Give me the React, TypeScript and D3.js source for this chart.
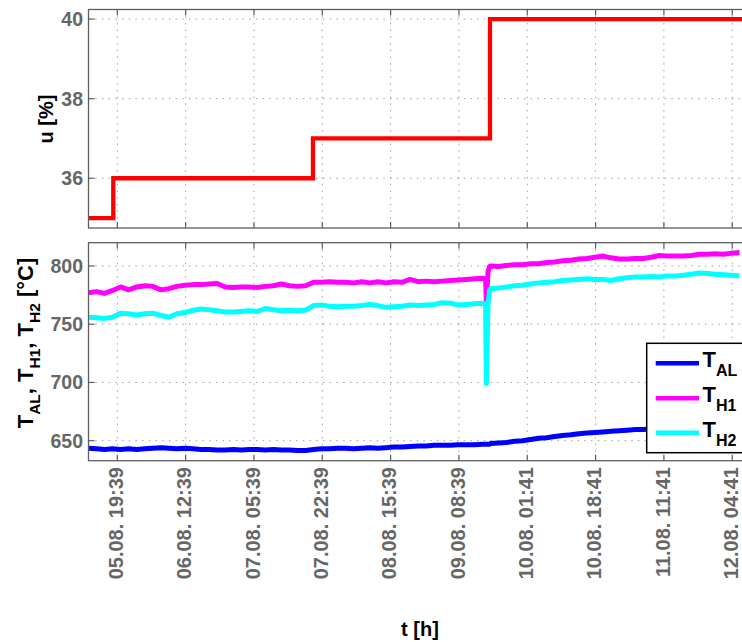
import React from "react";
import * as d3 from "d3";

// Sample times in hours from the start of the record
const hours = [
  0, 2, 4, 6, 8, 10, 12, 14, 16, 18, 20, 22, 24, 26, 28, 30, 32, 34, 36, 38,
  40, 42, 44, 46, 48, 50, 52, 54, 56, 58, 60, 62, 64, 66, 68, 70, 72, 74, 76, 78,
  80, 82, 84, 86, 88, 90, 92, 94, 96, 98, 98.8, 99.0, 99.4, 99.8,
  100, 102, 104, 106, 108, 110, 112, 114, 116, 118, 120, 122, 124, 126, 128, 130,
  132, 134, 136, 138, 140, 142, 144, 146, 148, 150, 152, 154, 156, 158, 160, 162,
];

// Temperatures [°C]
const tAL = [
  643.5, 643, 642.5, 643, 642.5, 643, 642.5, 643, 643.5, 644,
  643.5, 643, 643.5, 643, 642.5, 642.5, 642, 642, 642.5, 642,
  642.5, 642.5, 642, 642.5, 642, 642, 641.5, 641.5, 642.5, 643,
  643, 643.5, 643.5, 643, 643.5, 644, 643.5, 644, 644.5, 644.5,
  645, 645.5, 645.5, 646, 646, 646, 646.5, 646.5, 646.5, 647,
  647, 647, 647, 647,
  647.5, 648, 648.5, 649.5, 650, 651, 652, 652.5, 653.5, 654.5,
  655, 656, 656.5, 657, 657.5, 658, 658.5, 659, 659.5, 659.5,
  660, 660.5, 661, 661.5, 662, 662, 662.5, 663, 663, 663.5,
  664, 664,
];

const tH1 = [
  777, 778, 776.5, 779, 782, 779.5, 782, 783, 782.5, 779.5,
  780.5, 782.5, 783.5, 784, 784, 784.5, 785, 782, 781.5, 782,
  782, 781.5, 782.5, 783, 784.5, 783, 782.5, 783, 786, 786,
  786.5, 786, 786, 785.5, 786.5, 785.5, 786.5, 785.5, 786.5, 786,
  788.5, 786.5, 787, 786.5, 787, 787.5, 788, 788.5, 789, 789.5,
  789, 769, 795, 799.5,
  800, 799.5, 800.5, 801, 801, 802, 802, 803, 803.5, 804.5,
  805, 806, 806.5, 807.5, 808.5, 807, 806, 806, 806.5, 806.5,
  807.5, 809, 808.5, 808.5, 808.5, 809, 810, 810, 810.5, 810,
  811, 811.5,
];

const tH2 = [
  756, 755.5, 755, 756, 759.5, 759, 758, 759, 759.5, 757.5,
  756, 759, 760, 762, 763, 762.5, 761.5, 760.5, 760.5, 761,
  761.5, 761, 763.5, 762.5, 761.5, 762, 761.5, 762, 766, 766.5,
  765.5, 765, 765.5, 765.5, 766, 767, 766, 764.5, 765, 765.5,
  766.5, 766, 766.5, 767, 768.5, 768, 766.5, 767, 767.5, 768,
  767.5, 699, 767, 779,
  780.5, 781, 782, 783, 783.5, 784.5, 785.5, 786, 786.5, 787.5,
  788, 788.5, 789, 788.5, 788.5, 787.5, 789, 790, 790.5, 790.5,
  791, 790.5, 791.5, 791.5, 792, 793, 794, 793.5, 793, 792.5,
  792, 791.5,
];

// Control signal u [%]: step changes
const uHours = [0, 6.17, 55.85, 99.9, 162.6];
const uValues = [35, 36, 37, 40, 40];

// Time axis ticks
const tickHours = [7.17, 24.17, 41.17, 58.17, 75.17, 92.17, 109.17, 126.17, 143.17, 160.17];
const tickLabels = [
  "05.08. 19:39", "06.08. 12:39", "07.08. 05:39", "07.08. 22:39", "08.08. 15:39",
  "09.08. 08:39", "10.08. 01:41", "10.08. 18:41", "11.08. 11:41", "12.08. 04:41",
];
const uTicks = [36, 38, 40];
const tTicks = [650, 700, 750, 800];

const W = 742;
const H = 642;
const left = 88.5;
const right = 742;
const top1 = 9.5, bot1 = 228;
const top2 = 242.7, bot2 = 460.7;

const FONT = "'Liberation Sans', Arial, Helvetica, sans-serif";
const AXIS = "#5e5e5e";
const TICKTXT = "#666666";
const GRID = "#a0a0a0";

export default function App() {
  const x = d3.scaleLinear().domain([0, 162.6]).range([left, right]);
  const yU = d3.scaleLinear().domain([34.75, 40.24]).range([bot1, top1]);
  const yT = d3.scaleLinear().domain([632.8, 820]).range([bot2, top2]);

  const uLine = d3
    .line<number>()
    .x((_, i) => x(uHours[i]))
    .y((d) => yU(d))
    .curve(d3.curveStepAfter);

  const tLine = d3
    .line<number>()
    .x((_, i) => x(hours[i]))
    .y((d) => yT(d));

  const series = [
    { key: "AL", values: tAL, color: "#0000ff" },
    { key: "H1", values: tH1, color: "#ff00ff" },
    { key: "H2", values: tH2, color: "#00ffff" },
  ];

  const grid = (y0: number, y1: number, yTickVals: number[], yS: (v: number) => number) => (
    <g>
      {tickHours.map((h, i) => (
        <line key={"gx" + i} x1={x(h)} x2={x(h)} y1={y0} y2={y1} stroke={GRID} strokeWidth={1} strokeDasharray="1.5 5.2" />
      ))}
      {yTickVals.map((v, i) => (
        <line key={"gy" + i} x1={left} x2={right} y1={yS(v)} y2={yS(v)} stroke={GRID} strokeWidth={1} strokeDasharray="1.5 5.2" />
      ))}
    </g>
  );

  const box = (y0: number, y1: number, yTickVals: number[], yS: (v: number) => number) => (
    <g>
      <rect x={left} y={y0} width={right + 5 - left} height={y1 - y0} fill="none" stroke={AXIS} strokeWidth={1.3} />
      {tickHours.map((h, i) => (
        <g key={"tx" + i}>
          <line x1={x(h)} x2={x(h)} y1={y1} y2={y1 - 6} stroke={AXIS} strokeWidth={1.2} />
          <line x1={x(h)} x2={x(h)} y1={y0} y2={y0 + 6} stroke={AXIS} strokeWidth={1.2} />
        </g>
      ))}
      {yTickVals.map((v, i) => (
        <g key={"ty" + i}>
          <line x1={left} x2={left + 6} y1={yS(v)} y2={yS(v)} stroke={AXIS} strokeWidth={1.2} />
          <text x={83} y={yS(v)} dy="0.36em" textAnchor="end" fontFamily={FONT} fontWeight="bold" fontSize={19.5} fill={TICKTXT}>
            {v}
          </text>
        </g>
      ))}
    </g>
  );

  const legendX = 646.7, legendY = 343.3;
  const legendRows = [363.3, 398.3, 432.7];

  return (
    <svg width={W} height={H} style={{ position: "absolute", left: 0, top: 0, background: "#fff" }}>
      <defs>
        <clipPath id="clip1">
          <rect x={left} y={top1} width={right - left} height={bot1 - top1} />
        </clipPath>
        <clipPath id="clip2">
          <rect x={left} y={top2} width={right - left} height={bot2 - top2} />
        </clipPath>
      </defs>
      <rect x={0} y={0} width={W} height={H} fill="#fff" />

      {/* upper panel: control input */}
      {grid(top1, bot1, uTicks, yU)}
      <path d={uLine(uValues) || ""} fill="none" stroke="#ff0000" strokeWidth={4.3} clipPath="url(#clip1)" />
      {box(top1, bot1, uTicks, yU)}
      <text transform={`translate(53,119) rotate(-90)`} textAnchor="middle" fontFamily={FONT} fontWeight="bold" fontSize={20} fill="#000">
        u [%]
      </text>

      {/* lower panel: temperatures */}
      {grid(top2, bot2, tTicks, yT)}
      <g clipPath="url(#clip2)">
        {series.map((s) => (
          <path key={s.key} d={tLine(s.values) || ""} fill="none" stroke={s.color} strokeWidth={5} strokeLinejoin="round" />
        ))}
      </g>
      {box(top2, bot2, tTicks, yT)}
      <text transform={`translate(33,343) rotate(-90)`} textAnchor="middle" fontFamily={FONT} fontWeight="bold" fontSize={22} fill="#000">
        <tspan>T</tspan>
        <tspan fontSize={15.5} dy={7}>AL</tspan>
        <tspan dy={-7}>, T</tspan>
        <tspan fontSize={15.5} dy={7}>H1</tspan>
        <tspan dy={-7}>, T</tspan>
        <tspan fontSize={15.5} dy={7}>H2</tspan>
        <tspan dy={-7}> [°C]</tspan>
      </text>

      {/* legend */}
      <rect x={legendX} y={legendY} width={W + 5 - legendX} height={452.7 - legendY} fill="#fff" stroke="#000" strokeWidth={1.5} />
      {series.map((s, i) => (
        <g key={"lg" + s.key}>
          <line x1={655.7} x2={699} y1={legendRows[i]} y2={legendRows[i]} stroke={s.color} strokeWidth={4.5} />
          <text x={702.5} y={legendRows[i] + 4} fontFamily={FONT} fontWeight="bold" fontSize={22} fill="#000">
            <tspan>T</tspan>
            <tspan fontSize={16} dy={9}>{s.key}</tspan>
          </text>
        </g>
      ))}

      {/* time tick labels */}
      {tickHours.map((h, i) => (
        <text
          key={"xl" + i}
          transform={`translate(${x(h) - 1.5},467) rotate(-90)`}
          dy="0.36em"
          textAnchor="end"
          fontFamily={FONT}
          fontWeight="bold"
          fontSize={20}
          fill={TICKTXT}
        >
          {tickLabels[i]}
        </text>
      ))}
      <text x={420} y={636} textAnchor="middle" fontFamily={FONT} fontWeight="bold" fontSize={20} fill="#000">
        t [h]
      </text>
    </svg>
  );
}
